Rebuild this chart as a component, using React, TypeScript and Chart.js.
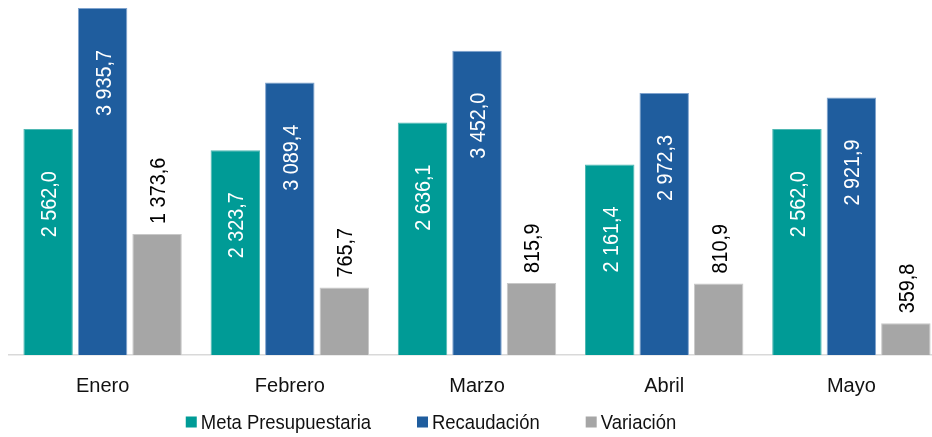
import { useEffect, useRef } from 'react';
import { Chart, registerables } from 'chart.js';

Chart.register(...registerables);

const categories = ['Enero', 'Febrero', 'Marzo', 'Abril', 'Mayo'];
const metaPresupuestaria = [2562.0, 2323.7, 2636.1, 2161.4, 2562.0];
const recaudacion = [3935.7, 3089.4, 3452.0, 2972.3, 2921.9];
const variacion = [1373.6, 765.7, 815.9, 810.9, 359.8];
const seriesNames = ['Meta Presupuestaria', 'Recaudación', 'Variación'];

const FONT = '"Liberation Sans", Arial, sans-serif';
const fillColors = ['#009B96', '#1F5D9E', '#A6A6A6'];
const borderColors = ['#4FB8B3', '#7FA3CE', '#C8C8C8'];

function fmt(v: number): string {
  const [i, d] = v.toFixed(1).split('.');
  const intPart = i.replace(/\B(?=(\d{3})+(?!\d))/g, ' ');
  return intPart + ',' + d;
}

const labelPlugin = {
  id: 'barLabels',
  afterDatasetsDraw(chart: any) {
    const ctx = chart.ctx as CanvasRenderingContext2D;
    const fs = 22;
    chart.data.datasets.forEach((ds: any, di: number) => {
      const meta = chart.getDatasetMeta(di);
      meta.data.forEach((bar: any, i: number) => {
        const text = fmt(ds.data[i]);
        const inside = di < 2;
        ctx.save();
        ctx.font = `${fs}px ${FONT}`;
        ctx.textBaseline = 'alphabetic';
        ctx.fillStyle = inside ? '#ffffff' : '#000000';
        ctx.translate(bar.x, inside ? bar.y + 42 : bar.y - 10);
        ctx.rotate(-Math.PI / 2);
        ctx.scale(0.9, 1);
        ctx.textAlign = inside ? 'right' : 'left';
        ctx.fillText(text, 0, fs * 0.36);
        ctx.restore();
      });
    });
  },
};

const legendPlugin = {
  id: 'customLegend',
  afterDraw(chart: any) {
    const ctx = chart.ctx as CanvasRenderingContext2D;
    const fs = 20.5;
    const squeeze = 0.9;
    const box = 11;
    const gapText = 4;
    const gapItem = 46;
    const centerX = 423;
    const centerY = chart.height - 15;
    ctx.save();
    ctx.font = `${fs}px ${FONT}`;
    const items = chart.data.datasets.map((ds: any) => ({
      label: ds.label as string,
      color: ds.backgroundColor as string,
      w: ctx.measureText(ds.label).width * squeeze,
    }));
    const total = items.reduce((s: number, it: any) => s + box + gapText + it.w, 0) + gapItem * (items.length - 1);
    let x = centerX - total / 2;
    items.forEach((it: any) => {
      ctx.fillStyle = it.color;
      ctx.fillRect(x, centerY - box / 2, box, box);
      x += box + gapText;
      ctx.save();
      ctx.translate(x, centerY + fs * 0.358);
      ctx.scale(squeeze, 1);
      ctx.fillStyle = '#111111';
      ctx.textAlign = 'left';
      ctx.textBaseline = 'alphabetic';
      ctx.fillText(it.label, 0, 0);
      ctx.restore();
      x += it.w + gapItem;
    });
    ctx.restore();
  },
};

export default function App() {
  const canvasRef = useRef<HTMLCanvasElement | null>(null);

  useEffect(() => {
    if (!canvasRef.current) return;
    const series = [metaPresupuestaria, recaudacion, variacion];
    const chart = new Chart(canvasRef.current, {
      type: 'bar',
      data: {
        labels: categories,
        datasets: series.map((data, i) => ({
          label: seriesNames[i],
          data,
          backgroundColor: fillColors[i],
          borderColor: borderColors[i],
          borderWidth: 1,
          categoryPercentage: 0.873,
          barPercentage: 0.908,
        })),
      },
      options: {
        animation: false,
        responsive: true,
        maintainAspectRatio: false,
        layout: { padding: { left: 1, right: 0, top: 0, bottom: 20 } },
        plugins: {
          legend: { display: false },
          tooltip: { enabled: false },
        },
        scales: {
          x: {
            grid: { display: false, drawTicks: false },
            border: { display: true, color: '#D9D9D9', width: 1.5 },
            ticks: {
              color: '#111111',
              font: { family: FONT, size: 20 },
              padding: 19,
              autoSkip: false,
              maxRotation: 0,
            },
          },
          y: {
            display: false,
            min: 0,
            max: 3935.7,
          },
        },
      },
      plugins: [labelPlugin, legendPlugin],
    });
    return () => chart.destroy();
  }, []);

  return (
    <div style={{ position: 'fixed', left: 0, top: 0, width: '100vw', height: '100vh', overflow: 'hidden', background: '#ffffff' }}>
      <div style={{ position: 'absolute', left: 8, top: 8, width: 937, height: 429 }}>
        <canvas ref={canvasRef} />
      </div>
    </div>
  );
}
